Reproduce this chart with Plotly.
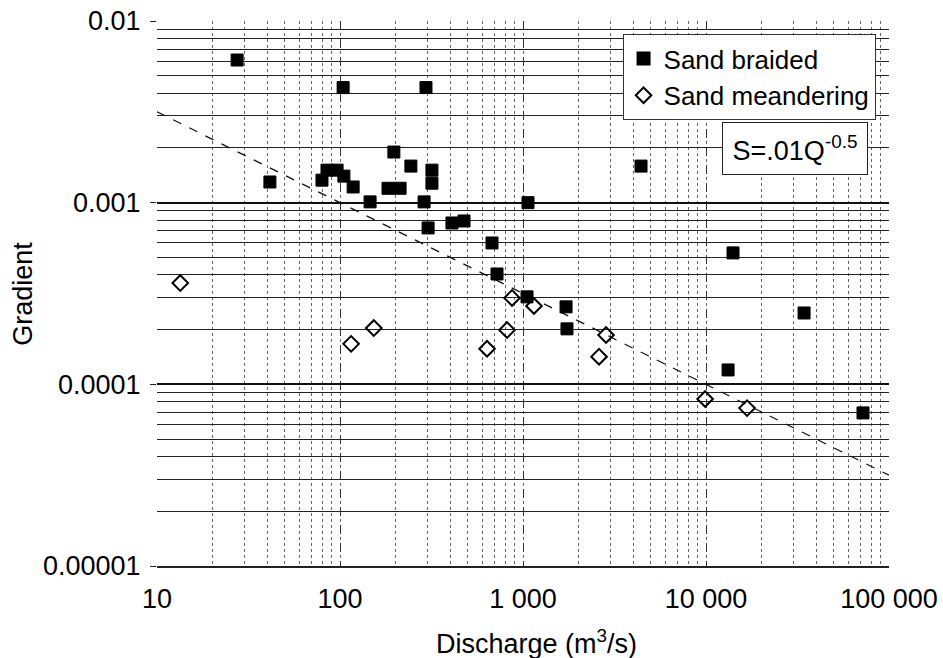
import numpy as np
import plotly.graph_objects as go

# Sand braided rivers: discharge (m3/s) and channel gradient
braided_q = [27.4, 104, 295, 41.4, 197, 244, 318, 318, 79.7, 84.9, 96.4, 105, 118,
             183, 213, 146, 288, 1065, 303, 409, 476, 677, 721, 1052, 1719, 1739,
             4415, 14050, 34350, 13200, 72100]
braided_s = [0.0061, 0.0043, 0.0043, 0.0013, 0.0019, 0.00159, 0.00151, 0.00128,
             0.00133, 0.00151, 0.00151, 0.0014, 0.00122, 0.0012, 0.0012, 0.00101,
             0.00101, 0.001, 0.000726, 0.000773, 0.000793, 0.0006, 0.000405,
             0.000303, 0.000267, 0.000202, 0.00159, 0.000529, 0.000247, 0.00012,
             0.0000696]

# Sand meandering rivers
meander_q = [13.4, 115, 153, 636, 818, 871, 1148, 2603, 2843, 9890, 16760]
meander_s = [0.000361, 0.000167, 0.000204, 0.000157, 0.000199, 0.000299, 0.00027,
             0.000142, 0.000187, 0.000083, 0.000074]

# Regression line S = 0.01 Q^-0.5 over the axis span
coef, expo = 0.01, -0.5
line_q = np.array([10, 100000])
line_s = coef * line_q ** expo

x_tickvals = [10, 100, 1000, 10000, 100000]
x_ticktext = ["10", "100", "1 000", "10 000", "100 000"]
y_tickvals = [0.01, 0.001, 0.0001, 0.00001]
y_ticktext = ["0.01", "0.001", "0.0001", "0.00001"]

FONT = "Liberation Sans, Arial, sans-serif"

fig = go.Figure()
fig.add_trace(go.Scatter(
    x=line_q, y=line_s, mode="lines", showlegend=False, hoverinfo="skip",
    line=dict(color="#111", width=1.2, dash="dash")))
fig.add_trace(go.Scatter(
    x=braided_q, y=braided_s, mode="markers", name="Sand braided",
    marker=dict(symbol="square", size=12, color="black",
                line=dict(color="black", width=1))))
fig.add_trace(go.Scatter(
    x=meander_q, y=meander_s, mode="markers", name="Sand meandering",
    marker=dict(symbol="diamond-open", size=12, color="black",
                line=dict(color="black", width=2))))

fig.update_layout(
    width=943, height=658,
    margin=dict(l=157, r=54, t=21, b=92),
    paper_bgcolor="white", plot_bgcolor="white",
    font=dict(family=FONT, size=27, color="black"),
    legend=dict(x=0.636, y=0.976, xanchor="left", yanchor="top",
                bgcolor="white", bordercolor="#333", borderwidth=1,
                font=dict(size=26), tracegroupgap=0, itemsizing="constant"),
    xaxis=dict(
        type="log", range=[1, 5], tickvals=x_tickvals, ticktext=x_ticktext,
        automargin=False,
        showgrid=True, gridcolor="#333", gridwidth=1, griddash="dash",
        minor=dict(dtick="D1", showgrid=True, gridcolor="#666", gridwidth=1,
                   griddash="dot"),
        showline=True, linecolor="#222", linewidth=1.5,
        ticks="", ticklabelstandoff=8, zeroline=False,
        tickfont=dict(size=27)),
    yaxis=dict(
        type="log", range=[-5, -2], tickvals=y_tickvals, ticktext=y_ticktext,
        automargin=False,
        showgrid=True, gridcolor="#111", gridwidth=1.6,
        minor=dict(dtick="D1", showgrid=True, gridcolor="#222", gridwidth=1.4),
        showline=False, ticks="outside", ticklen=6, tickcolor="#222",
        ticklabelstandoff=4, zeroline=False, tickfont=dict(size=27)),
    annotations=[
        dict(text="S=.01Q<sup>-0.5</sup>", xref="paper", yref="paper",
             x=0.871, y=0.766, xanchor="center", yanchor="middle",
             showarrow=False, bgcolor="white", bordercolor="#222",
             borderwidth=1, borderpad=8, width=128, height=35,
             font=dict(size=27)),
        dict(text="Discharge (m<sup>3</sup>/s)", xref="paper", yref="paper",
             x=0.519, y=-0.139, xanchor="center", yanchor="middle",
             showarrow=False, font=dict(size=27)),
        dict(text="Gradient", xref="paper", yref="paper", textangle=-90,
             x=-0.184, y=0.5, xanchor="center", yanchor="middle",
             showarrow=False, font=dict(size=27)),
    ],
)

fig.write_html("out.html")
